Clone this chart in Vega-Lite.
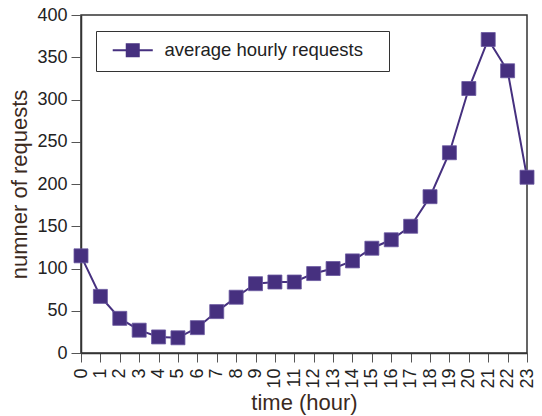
{
  "$schema": "https://vega.github.io/schema/vega-lite/v6.json",
  "width": 446,
  "height": 338,
  "autosize": "none",
  "padding": {"left": 81, "top": 15, "right": 15, "bottom": 63},
  "background": "white",
  "config": {
    "font": "Liberation Sans",
    "view": {"stroke": "#333333", "strokeWidth": 1.5}
  },
  "data": {
    "values": [
      {"hour": 0, "requests": 115, "series": "average hourly requests"},
      {"hour": 1, "requests": 67, "series": "average hourly requests"},
      {"hour": 2, "requests": 41, "series": "average hourly requests"},
      {"hour": 3, "requests": 27, "series": "average hourly requests"},
      {"hour": 4, "requests": 19, "series": "average hourly requests"},
      {"hour": 5, "requests": 18, "series": "average hourly requests"},
      {"hour": 6, "requests": 30, "series": "average hourly requests"},
      {"hour": 7, "requests": 49, "series": "average hourly requests"},
      {"hour": 8, "requests": 66, "series": "average hourly requests"},
      {"hour": 9, "requests": 82, "series": "average hourly requests"},
      {"hour": 10, "requests": 84, "series": "average hourly requests"},
      {"hour": 11, "requests": 84, "series": "average hourly requests"},
      {"hour": 12, "requests": 94, "series": "average hourly requests"},
      {"hour": 13, "requests": 100, "series": "average hourly requests"},
      {"hour": 14, "requests": 109, "series": "average hourly requests"},
      {"hour": 15, "requests": 124, "series": "average hourly requests"},
      {"hour": 16, "requests": 134, "series": "average hourly requests"},
      {"hour": 17, "requests": 150, "series": "average hourly requests"},
      {"hour": 18, "requests": 185, "series": "average hourly requests"},
      {"hour": 19, "requests": 237, "series": "average hourly requests"},
      {"hour": 20, "requests": 313, "series": "average hourly requests"},
      {"hour": 21, "requests": 371, "series": "average hourly requests"},
      {"hour": 22, "requests": 334, "series": "average hourly requests"},
      {"hour": 23, "requests": 208, "series": "average hourly requests"}
    ]
  },
  "encoding": {
    "x": {
      "field": "hour",
      "type": "quantitative",
      "scale": {"domain": [0, 23], "nice": false, "zero": false},
      "axis": {
        "values": [0,1,2,3,4,5,6,7,8,9,10,11,12,13,14,15,16,17,18,19,20,21,22,23],
        "title": "time (hour)",
        "grid": false,
        "labelAngle": -90,
        "labelAlign": "right",
        "labelBaseline": "middle",
        "labelFontSize": 18,
        "labelColor": "#222222",
        "labelPadding": 6,
        "tickSize": 9,
        "tickColor": "#555555",
        "domainColor": "#333333",
        "domainWidth": 1.5,
        "titleFontSize": 22,
        "titleFontWeight": "normal",
        "titleColor": "#3b2a1e",
        "titlePadding": 4,
        "labelFlush": false,
        "labelOverlap": false
      }
    },
    "y": {
      "field": "requests",
      "type": "quantitative",
      "scale": {"domain": [0, 400], "nice": false},
      "axis": {
        "values": [0, 50, 100, 150, 200, 250, 300, 350, 400],
        "title": "numner of requests",
        "grid": false,
        "labelFontSize": 18,
        "labelColor": "#222222",
        "labelPadding": 4,
        "tickSize": 10,
        "tickColor": "#555555",
        "domainColor": "#333333",
        "domainWidth": 1.5,
        "titleFontSize": 22,
        "titleFontWeight": "normal",
        "titleColor": "#3b2a1e",
        "titlePadding": 5,
        "labelFlush": false
      }
    },
    "color": {
      "field": "series",
      "type": "nominal",
      "scale": {"range": ["#46307f"]},
      "legend": {
        "title": " ",
        "titleOrient": "right",
        "titleFontSize": 1,
        "titlePadding": 16,
        "orient": "none",
        "legendX": 15,
        "legendY": 16,
        "fillColor": "white",
        "strokeColor": "#333333",
        "padding": 10,
        "symbolType": "M-2.67,0H2.67M-0.8,-0.8H0.8V0.8H-0.8Z",
        "symbolSize": 225,
        "symbolStrokeWidth": 2,
        "symbolFillColor": "#46307f",
        "symbolStrokeColor": "#46307f",
        "labelFontSize": 18.5,
        "labelLimit": 0,
        "labelColor": "#222222",
        "labelOffset": 22.5,
        "symbolOffset": 17.5
      }
    }
  },
  "layer": [
    {"mark": {"type": "line", "strokeWidth": 2}},
    {"mark": {"type": "point", "shape": "square", "size": 196, "filled": true, "opacity": 1, "stroke": "#6a58a0", "strokeWidth": 0.8}}
  ]
}
